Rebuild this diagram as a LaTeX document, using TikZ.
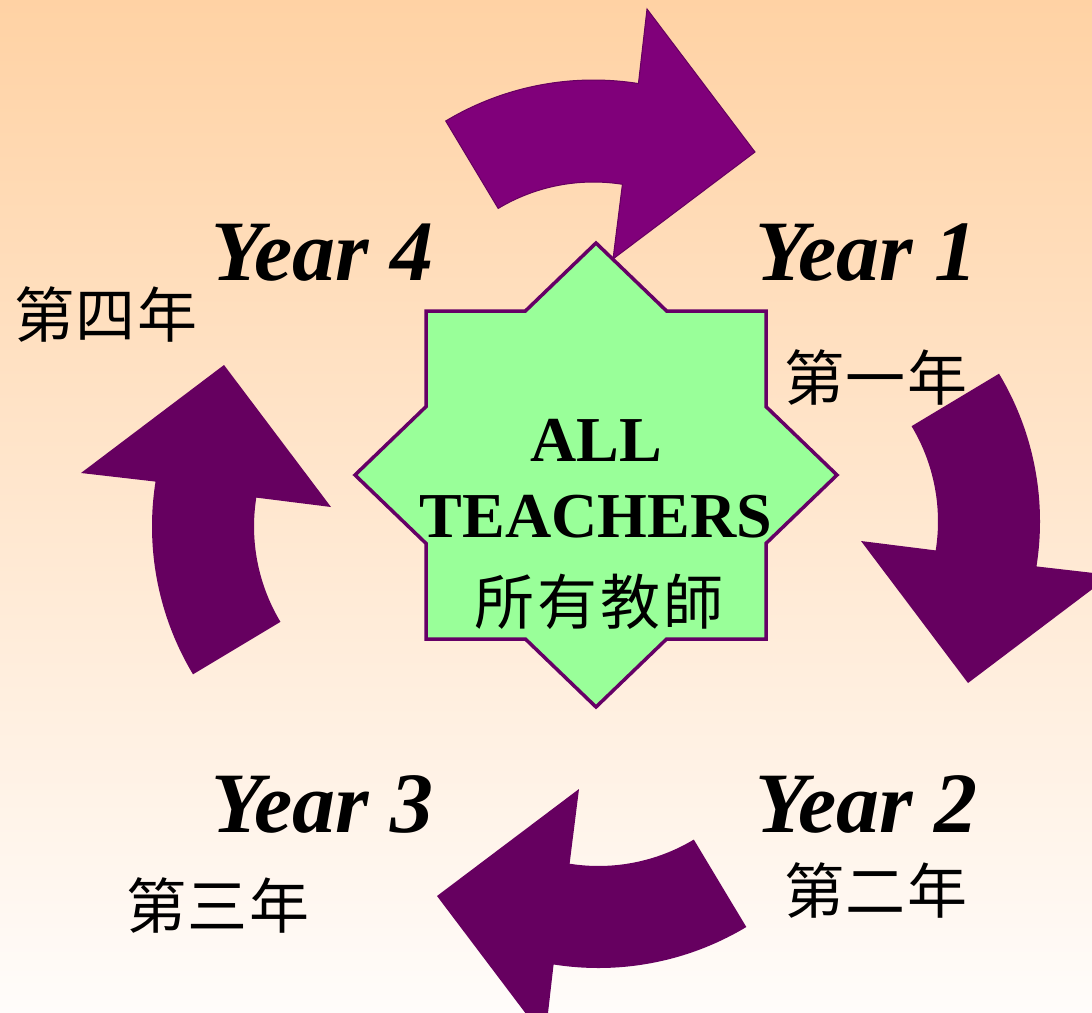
\documentclass[tikz,border=0pt]{standalone}
\usepackage{fontspec}
\setmainfont{Liberation Serif}
\newfontfamily\cjklab[LetterSpace=3]{Noto Sans CJK TC}
\newfontfamily\cjkmid[LetterSpace=5]{Noto Sans CJK TC}
\definecolor{bgtop}{RGB}{255,210,164}
\definecolor{bgbot}{RGB}{255,252,250}
\definecolor{arrowA}{RGB}{128,0,122}
\definecolor{arrowB}{RGB}{102,0,96}
\definecolor{starfill}{RGB}{153,255,153}
\definecolor{starline}{RGB}{102,0,102}
\newcommand\cyclearrowpath{(445.7,121.0) arc[start angle=239,end angle=279,radius=287] -- (647,9) -- (755,152) -- (613,259) -- (622.4,184.3) arc[start angle=279,end angle=239,radius=185] -- cycle}
\tikzset{
  yearlabel/.style={anchor=base west,inner sep=0pt,font=\fontsize{86}{86}\selectfont\bfseries\itshape},
  cjklabel/.style={anchor=center,inner sep=0pt,font=\fontsize{60}{60}\selectfont\cjklab},
  midlabel/.style={anchor=base,inner sep=0pt,font=\fontsize{64}{64}\selectfont\bfseries},
}
\begin{document}
\begin{tikzpicture}[x=1pt,y=-1pt]
\useasboundingbox (0,0) rectangle (1092,1012);
\begin{scope}
\clip (0,0) rectangle (1092,1012);
\shade[top color=bgtop,bottom color=bgbot] (0,0) rectangle (1092,1012);
% arrows
\fill[arrowA,draw=arrowB,line width=1pt] \cyclearrowpath;
\begin{scope}[rotate around={-90:(596,524)}]
\fill[arrowB] \cyclearrowpath;
\end{scope}
\begin{scope}[rotate around={-180:(596,524)}]
\fill[arrowB] \cyclearrowpath;
\end{scope}
\begin{scope}[rotate around={-270:(596,524)}]
\fill[arrowB] \cyclearrowpath;
\end{scope}
% star
\draw[fill=starfill,draw=starline,line width=3.5pt,line join=miter]
 (596,243) -- (666.6,311) -- (766,311) -- (766,406.6) -- (837,475) -- (766,543.4)
 -- (766,639) -- (666.6,639) -- (596,707) -- (525.4,639) -- (426,639) -- (426,543.4)
 -- (355,475) -- (426,406.6) -- (426,311) -- (525.4,311) -- cycle;
\end{scope}
% center texts
\node[midlabel] (all) at (596,461) {ALL};
\node[midlabel] (teachers) at (596,537) {TEACHERS};
\node[anchor=center,inner sep=0pt,font=\fontsize{60}{60}\selectfont\cjkmid] (allzh) at (599,602) {所有教師};
% year labels
\node[yearlabel] (y1) at (755,280) {Year 1};
\node[yearlabel] (y2) at (755,832) {Year 2};
\node[yearlabel] (y3) at (211,832) {Year 3};
\node[yearlabel] (y4) at (211,280) {Year 4};
% chinese labels
\node[cjklabel] (z1) at (876,377) {第一年};
\node[cjklabel] (z2) at (876,890) {第二年};
\node[cjklabel] (z3) at (218,905) {第三年};
\node[cjklabel] (z4) at (106,314) {第四年};
\end{tikzpicture}
\end{document}
